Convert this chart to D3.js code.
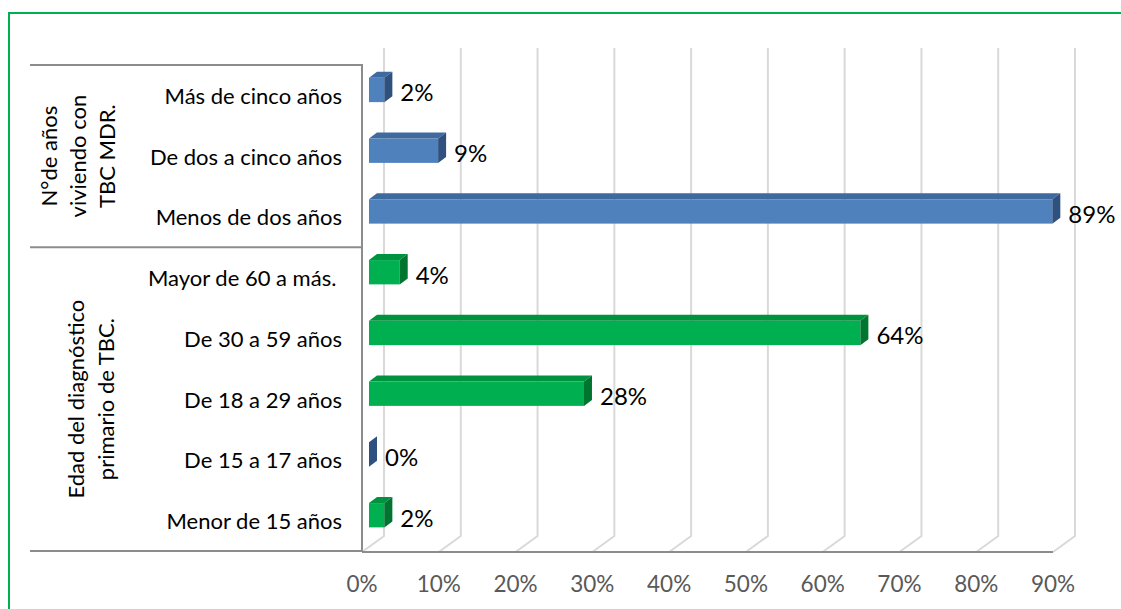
<!DOCTYPE html>
<html>
<head>
<meta charset="utf-8">
<script src="https://cdn.jsdelivr.net/npm/d3@7"></script>
<style>
  html, body { margin: 0; padding: 0; background: #ffffff; }
  svg { display: block; }
  text { font-family: "Lato", "Open Sans", sans-serif; }
</style>
</head>
<body>
<svg id="chart" width="1121" height="609"></svg>
<script>
// Categories, top to bottom
const categories = [
  "Más de cinco años",
  "De dos a cinco años",
  "Menos de dos años",
  "Mayor de 60 a más. ",
  "De 30 a 59 años",
  "De 18 a 29 años",
  "De 15 a 17 años",
  "Menor de 15 años"
];
// Percentages for each category
const values = [2, 9, 89, 4, 64, 28, 0, 2];
// Which colour family each bar is painted with
const barSeries = ["blue", "blue", "blue", "green", "green", "green", "blue", "green"];
// Group headings (lines of the rotated text) and how many categories each spans
const groupTitles = [
  ["N°de años", "viviendo con", "TBC MDR."],
  ["Edad del diagnóstico", "primario de TBC."]
];
const groupSizes = [3, 5];
// Axis ticks
const tickValues = [0, 10, 20, 30, 40, 50, 60, 70, 80, 90];
const tickLabels = ["0%", "10%", "20%", "30%", "40%", "50%", "60%", "70%", "80%", "90%"];

const palette = {
  blue:  { front: "#4f81bd", top: "#3f6aa0", side: "#2f5180" },
  green: { front: "#00b050", top: "#00933f", side: "#00752f" }
};

const svg = d3.select("#chart");

// Outer frame
svg.append("rect")
  .attr("x", 9).attr("y", 13)
  .attr("width", 1130).attr("height", 620)
  .attr("fill", "none")
  .attr("stroke", "#00b050")
  .attr("stroke-width", 2);

// Plot geometry (front plane) and 3D depth offsets
const plotLeft = 362, plotRight = 1053, plotTop = 65, plotBottom = 551;
const wallTop = 48;
const depth = { dx: 22, dy: -15 };        // floor depth
const barOffset = { dx: 7, dy: -5.4 };    // bar front face inside the depth
const barDepth = { dx: 8, dy: -6 };       // bar thickness in depth

const x = d3.scaleLinear().domain([0, 90]).range([plotLeft, plotRight]);
const y = d3.scaleBand()
  .domain(categories)
  .range([plotTop, plotBottom])
  .paddingInner(0.6)
  .paddingOuter(0.3);

// Gridlines: up the back wall, then across the floor to the front edge
const grid = svg.append("g");
tickValues.forEach(v => {
  const xf = x(v), xb = xf + depth.dx;
  const yb = plotBottom + depth.dy;
  grid.append("path")
    .attr("d", `M${xb},${wallTop} L${xb},${yb} L${xf},${plotBottom + 1}`)
    .attr("fill", "none")
    .attr("stroke", "#d9d9d9")
    .attr("stroke-width", 2);
});

// Category table lines (left)
const lineColor = "#8c8c8c";
const groupBounds = [plotTop];
let acc = 0;
groupSizes.forEach(n => {
  acc += n;
  groupBounds.push(y.step() * acc + plotTop);
});
groupBounds[groupBounds.length - 1] = plotBottom;
groupBounds.forEach(gy => {
  svg.append("line")
    .attr("x1", 30).attr("x2", plotLeft)
    .attr("y1", gy).attr("y2", gy)
    .attr("stroke", lineColor).attr("stroke-width", 2);
});
// Axis lines
svg.append("line")
  .attr("x1", plotLeft).attr("x2", plotLeft)
  .attr("y1", plotTop - 1).attr("y2", plotBottom + 1)
  .attr("stroke", lineColor).attr("stroke-width", 2);
svg.append("line")
  .attr("x1", plotLeft).attr("x2", plotRight)
  .attr("y1", plotBottom + 1).attr("y2", plotBottom + 1)
  .attr("stroke", lineColor).attr("stroke-width", 2);

// Bars as 3D boxes: front, top and side faces
const bars = svg.append("g");
categories.forEach((c, i) => {
  const col = palette[barSeries[i]];
  const x0 = x(0) + barOffset.dx;
  const x1 = x(values[i]) + barOffset.dx;
  const yt = y(c) + barOffset.dy;
  const yb = yt + y.bandwidth();
  const { dx, dy } = barDepth;
  const g = bars.append("g");
  g.append("rect")
    .attr("x", x0).attr("y", yt)
    .attr("width", Math.max(0, x1 - x0)).attr("height", yb - yt)
    .attr("fill", col.front);
  g.append("polygon")
    .attr("points", [[x0, yt], [x1, yt], [x1 + dx, yt + dy], [x0 + dx, yt + dy]].join(" "))
    .attr("fill", col.top);
  g.append("polygon")
    .attr("points", [[x1, yt], [x1, yb], [x1 + dx, yb + dy], [x1 + dx, yt + dy]].join(" "))
    .attr("fill", col.side);

  // Value label
  svg.append("text")
    .attr("x", x1 + 16)
    .attr("y", yt + y.bandwidth() / 2 + 2)
    .attr("dominant-baseline", "central")
    .attr("font-size", 24)
    .attr("fill", "#000")
    .text(values[i] + "%");
});

// Category labels
svg.append("g").selectAll("text")
  .data(categories)
  .join("text")
  .attr("x", 342)
  .attr("y", d => y(d) + y.bandwidth() / 2)
  .attr("text-anchor", "end")
  .attr("dominant-baseline", "central")
  .attr("font-size", 22)
  .attr("fill", "#000")
  .style("white-space", "pre")
  .text(d => d);

// Group headings, rotated
const groupCenterX = [86, 99];
const groupPitch = [29, 30];
groupTitles.forEach((lines, gi) => {
  const cy = (groupBounds[gi] + groupBounds[gi + 1]) / 2;
  const n = lines.length;
  lines.forEach((t, li) => {
    const bx = groupCenterX[gi] + (li - (n - 1) / 2) * groupPitch[gi];
    svg.append("text")
      .attr("transform", `translate(${bx},${cy}) rotate(-90)`)
      .attr("text-anchor", "middle")
      .attr("font-size", 22)
      .attr("fill", "#000")
      .text(t);
  });
});

// X axis tick labels
svg.append("g").selectAll("text")
  .data(tickValues)
  .join("text")
  .attr("x", d => x(d))
  .attr("y", 583)
  .attr("text-anchor", "middle")
  .attr("dominant-baseline", "central")
  .attr("font-size", 22.5)
  .attr("fill", "#595959")
  .text((d, i) => tickLabels[i]);
</script>
</body>
</html>
